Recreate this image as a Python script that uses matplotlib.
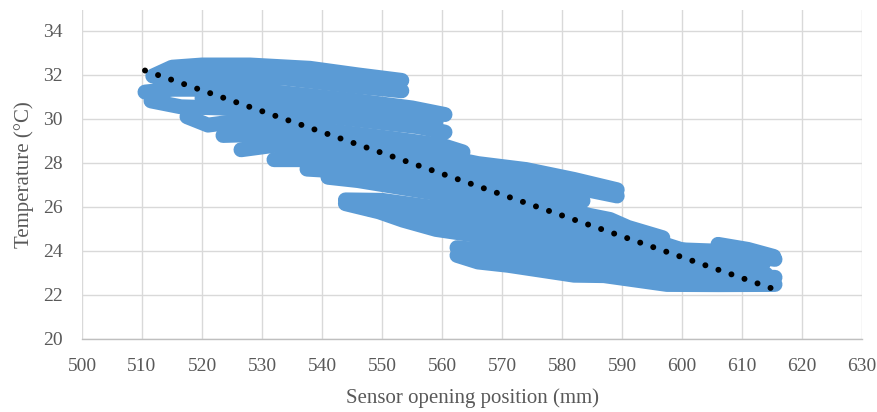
import matplotlib.pyplot as plt

# logged runs: sensor opening position (mm) vs temperature (degC)
pos_01 = [511.8, 515, 520, 528, 538, 546, 553.3]
temp_01 = [31.95, 32.35, 32.45, 32.45, 32.3, 32.0, 31.75]
pos_02 = [513, 522, 534, 545, 553.3]
temp_02 = [31.6, 31.95, 31.85, 31.5, 31.28]
pos_03 = [510.5, 515, 522, 533, 545, 555, 560.5]
temp_03 = [31.22, 31.35, 31.35, 31.2, 30.85, 30.5, 30.2]
pos_04 = [520, 530, 542, 552, 559]
temp_04 = [30.95, 30.85, 30.5, 30.15, 29.85]
pos_05 = [511.5, 516.5, 523, 535, 548, 556, 560.5]
temp_05 = [30.82, 30.55, 30.5, 30.3, 29.9, 29.65, 29.4]
pos_06 = [517.5, 521, 526, 540, 552, 560, 563.5]
temp_06 = [30.1, 29.72, 29.9, 29.5, 29.1, 28.8, 28.5]
pos_07 = [523.5, 530, 540, 552, 560, 566, 574, 582, 589.2]
temp_07 = [29.25, 29.3, 29.05, 28.6, 28.3, 27.97, 27.7, 27.25, 26.78]
pos_08 = [526.5, 532, 542, 552, 562, 572, 582, 589.2]
temp_08 = [28.6, 28.8, 28.6, 28.2, 27.75, 27.35, 26.9, 26.5]
pos_09 = [532, 540, 550, 560, 570, 578, 583.5]
temp_09 = [28.15, 28.15, 27.8, 27.35, 26.95, 26.6, 26.28]
pos_10 = [537.5, 545, 555, 565, 575, 584.5, 588, 591, 596.8]
temp_10 = [27.72, 27.6, 27.2, 26.8, 26.3, 25.62, 25.43, 25.07, 24.6]
pos_11 = [541, 546, 555, 565, 575, 584, 592, 600, 605, 615.5]
temp_11 = [27.35, 27.2, 26.8, 26.35, 25.9, 25.4, 24.75, 24.05, 24.0, 23.62]
pos_12 = [543.9, 550, 558, 566, 576, 586, 594, 604, 613.5]
temp_12 = [26.32, 26.3, 26.0, 25.75, 25.3, 24.8, 24.35, 23.85, 23.4]
pos_13 = [548, 556, 566, 576, 586, 596, 606, 612]
temp_13 = [25.9, 25.6, 25.25, 24.8, 24.3, 23.85, 23.45, 23.3]
pos_14 = [543.9, 549.5, 553.5, 559, 566, 576, 586, 596, 606, 614]
temp_14 = [26.15, 25.78, 25.4, 24.98, 24.7, 24.3, 23.85, 23.4, 23.05, 22.95]
pos_15 = [562.5, 570, 580, 590, 600, 608, 615.5]
temp_15 = [24.15, 23.95, 23.6, 23.2, 22.95, 22.85, 22.8]
pos_16 = [562.5, 566, 571, 582, 587, 597.5, 606, 615.5]
temp_16 = [23.8, 23.5, 23.35, 22.9, 22.88, 22.48, 22.47, 22.48]
pos_17 = [606, 611, 615.3]
temp_17 = [24.3, 24.07, 23.75]

runs = [
    (pos_01, temp_01), (pos_02, temp_02), (pos_03, temp_03), (pos_04, temp_04),
    (pos_05, temp_05), (pos_06, temp_06), (pos_07, temp_07), (pos_08, temp_08),
    (pos_09, temp_09), (pos_10, temp_10), (pos_11, temp_11), (pos_12, temp_12),
    (pos_13, temp_13), (pos_14, temp_14), (pos_15, temp_15), (pos_16, temp_16),
    (pos_17, temp_17),
]

# linear trendline end points
trend_pos = [510.5, 615.5]
trend_temp = [32.2, 22.25]

x_ticks = list(range(500, 631, 10))
y_ticks = list(range(20, 35, 2))

plt.rcParams['font.family'] = ['Liberation Serif', 'DejaVu Serif']

fig = plt.figure(figsize=(8.77, 4.12), dpi=100)
ax = fig.add_axes([0.0935, 0.1772, 0.8894, 0.7985])

blue = '#5B9BD5'
for px, py in runs:
    ax.plot(px, py, color=blue, linewidth=10.8, solid_capstyle='round',
            solid_joinstyle='round', zorder=2)

ax.plot(trend_pos, trend_temp, color='black', linewidth=4.3,
        linestyle=(0, (0.01, 2.3)), dash_capstyle='round', zorder=3)

ax.set_xlim(500, 630)
ax.set_ylim(20, 34.95)
ax.set_xticks(x_ticks)
ax.set_yticks(y_ticks)
ax.grid(True, color='#D9D9D9', linewidth=1.0, zorder=0)
ax.set_axisbelow(True)

for side in ['top', 'right', 'left']:
    ax.spines[side].set_visible(False)
ax.spines['bottom'].set_color('#BFBFBF')
ax.spines['bottom'].set_linewidth(1.0)

ax.tick_params(length=0, labelsize=14, labelcolor='#595959')
ax.tick_params(axis='x', pad=14)
ax.tick_params(axis='y', pad=14)

ax.set_xlabel('Sensor opening position (mm)', fontsize=15, color='#595959', labelpad=9)
ax.set_ylabel('Temperature (°C)', fontsize=15, color='#595959', labelpad=6)

fig.savefig('out.png', dpi=100)
